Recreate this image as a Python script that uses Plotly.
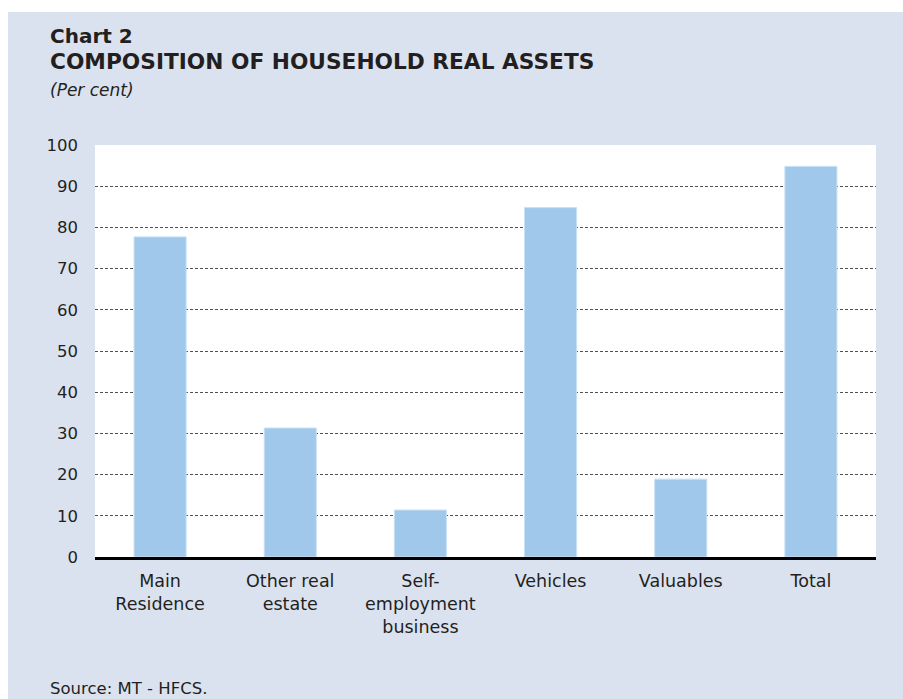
import plotly.graph_objects as go

categories = ["Main<br>Residence", "Other real<br>estate", "Self-<br>employment<br>business",
              "Vehicles", "Valuables", "Total"]
values = [77.7, 31.3, 11.4, 84.8, 18.9, 94.8]
y_ticks = [0, 10, 20, 30, 40, 50, 60, 70, 80, 90, 100]

W, H = 903, 699
L, R, T, B = 95, 27, 145, 142
PW, PH = W - L - R, H - T - B

def px(x):
    return (x - L) / PW

def py(y):
    return (H - B - y) / PH

PANEL = "rgb(219,226,239)"
FONT = "DejaVu Sans"
TXT = "#231f20"

fig = go.Figure()
fig.add_trace(go.Bar(
    x=categories, y=values,
    marker=dict(color="rgb(159,200,234)", line=dict(color="rgb(200,224,245)", width=1)),
    width=0.4, hoverinfo="skip",
))

fig.update_layout(
    width=W, height=H,
    margin=dict(l=L, r=R, t=T, b=B, pad=0),
    paper_bgcolor=PANEL, plot_bgcolor="white",
    showlegend=False,
    font=dict(family=FONT, color=TXT),
    xaxis=dict(
        showgrid=False, showline=True, linecolor="black", linewidth=3,
        ticks="", ticklabelstandoff=6,
        tickfont=dict(size=17.5, family=FONT, color=TXT),
        fixedrange=True,
    ),
    yaxis=dict(
        range=[0, 100], tickvals=y_ticks, showgrid=True,
        gridcolor="#505050", griddash="3px,2px", gridwidth=1,
        zeroline=False, showline=False, ticks="", ticklabelstandoff=16,
        tickfont=dict(size=16.5, family=FONT, color=TXT),
        fixedrange=True,
    ),
)

# white page strips (top and left)
fig.add_shape(type="rect", xref="paper", yref="paper", layer="above",
              x0=px(0), x1=px(W), y0=py(12), y1=py(0),
              fillcolor="white", line=dict(width=0))
fig.add_shape(type="rect", xref="paper", yref="paper", layer="above",
              x0=px(0), x1=px(8), y0=py(H), y1=py(0),
              fillcolor="white", line=dict(width=0))

def note(text, x, y, size, bold=False, italic=False):
    fig.add_annotation(
        text=text, xref="paper", yref="paper", x=px(x), y=py(y),
        xanchor="left", yanchor="middle", showarrow=False,
        font=dict(size=size, family=FONT, color=TXT,
                  weight="bold" if bold else "normal",
                  style="italic" if italic else "normal"),
    )

note("Chart 2", 48, 36, 20, bold=True)
note("COMPOSITION OF HOUSEHOLD REAL ASSETS", 48, 62, 21.7, bold=True)
note("(Per cent)", 48, 90, 17, italic=True)
note("Source: MT - HFCS.", 48, 688, 16.5)

fig.write_html("out.html", config={"displayModeBar": False},
               post_script="document.body.style.margin='0';")
